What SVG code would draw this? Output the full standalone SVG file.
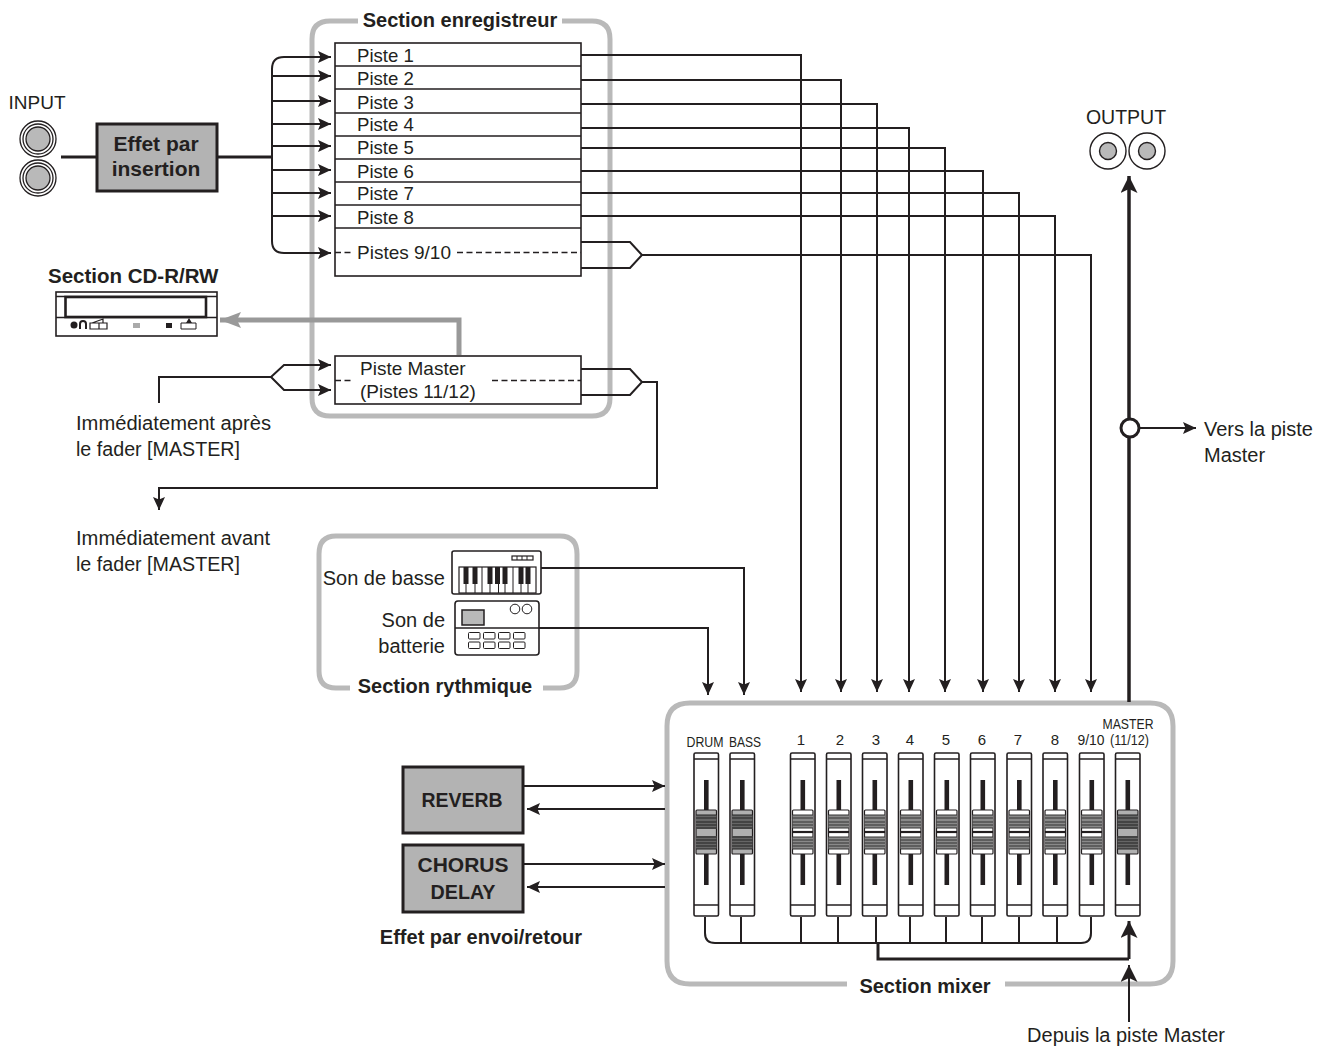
<svg xmlns="http://www.w3.org/2000/svg" width="1318" height="1054" viewBox="0 0 1318 1054">
<style>
text{font-family:"Liberation Sans",Arial,sans-serif;font-size:20px;fill:#231f20}
.b{font-weight:bold}
.m{text-anchor:middle}
.e{text-anchor:end}
.p{font-size:18.600px}
.sm{font-size:15px}
.xs{font-size:14px}
.fx{font-size:21px;font-weight:bold;text-anchor:middle}
.w{fill:none;stroke:#231f20;stroke-width:2}
.t{fill:none;stroke:#231f20;stroke-width:3}
.sec{fill:none;stroke:#b9b9b9;stroke-width:5}
.line{fill:none;stroke:#231f20;stroke-width:1.6}
.dash{fill:none;stroke:#231f20;stroke-width:1.3;stroke-dasharray:6 3.500}
.box{fill:#fff;stroke:#231f20;stroke-width:1.600}
.gb{fill:#b3b3b3;stroke:#231f20;stroke-width:3}
.g{fill:#b9b9b9;stroke:#231f20;stroke-width:1.5}
</style>
<defs>
<marker id="a" markerUnits="userSpaceOnUse" markerWidth="14" markerHeight="13" refX="13" refY="6" orient="auto"><path d="M0 0L13 6L0 12L2.500 6Z" fill="#231f20"/></marker>
<marker id="A" markerUnits="userSpaceOnUse" markerWidth="18" markerHeight="20" refX="17" refY="8.500" orient="auto"><path d="M0 0L17 8.500L0 17L4 8.500Z" fill="#231f20"/></marker>
<marker id="G" markerUnits="userSpaceOnUse" markerWidth="22" markerHeight="20" refX="21" refY="8" orient="auto"><path d="M0 0L21 8L0 16L4 8Z" fill="#999"/></marker>
<g id="fl">
<rect x="0" y="0" width="24.500" height="163" rx="1.500" class="box"/>
<path d="M0 6H24.500M0 152H24.500" class="line"/>
<rect x="10" y="27" width="4.600" height="105" fill="#231f20"/>
</g>
<g id="kw">
<rect x="2" y="57" width="20.500" height="44" rx="1" fill="#fff" stroke="#231f20" stroke-width="1.200"/>
<rect x="2" y="62" width="20.500" height="13" fill="#8a8a8a"/>
<rect x="2" y="84" width="20.500" height="12" fill="#8a8a8a"/>
<path d="M2 62h20.500M2 65h20.500M2 69h20.500M2 72h20.500M2 75h20.500M2 84h20.500M2 87h20.500M2 90h20.500M2 93h20.500M2 96h20.500" stroke="#333" stroke-width="1.100"/>
<path d="M2 79h20.500" stroke="#231f20" stroke-width="2.200"/>
</g>
<g id="kg">
<rect x="2" y="57" width="20.500" height="44" rx="1" fill="#b0b0b0" stroke="#231f20" stroke-width="1.200"/>
<rect x="2" y="62" width="20.500" height="14" fill="#666"/>
<rect x="2" y="83" width="20.500" height="13" fill="#666"/>
<path d="M2 62h20.500M2 65h20.500M2 69h20.500M2 72h20.500M2 75h20.500M2 84h20.500M2 87h20.500M2 90h20.500M2 93h20.500M2 96h20.500" stroke="#222" stroke-width="1"/>
</g>
</defs>

<g id="section-enregistreur">
<path class="sec" d="M358 21H330Q312 21 312 39V398Q312 416 330 416H592Q610 416 610 398V39Q610 21 592 21H562"/>
<text x="460" y="27" class="b m">Section enregistreur</text>
</g>
<g id="section-rythmique">
<path class="sec" d="M350 688H336Q319 688 319 671V554Q319 536 336 536H560Q577 536 577 554V671Q577 688 560 688H543"/>
<text x="445" y="693" class="b m">Section rythmique</text>
</g>
<g id="section-mixer">
<path class="sec" d="M847 984H690Q667 984 667 961V726Q667 703 690 703H1150Q1173 703 1173 726V961Q1173 984 1150 984H1005"/>
<text x="925" y="993" class="b m">Section mixer</text>
</g>

<g id="connectors">
<path class="t" d="M61 157H96M217 157H272"/>
<path class="w" d="M331 57H284Q272 57 272 69V241Q272 253 284 253H331" marker-end="url(#a)"/>
<path class="w" d="M284 57H331" marker-end="url(#a)"/>
<path class="w" d="M272 76H331" marker-end="url(#a)"/>
<path class="w" d="M272 101H331" marker-end="url(#a)"/>
<path class="w" d="M272 124H331" marker-end="url(#a)"/>
<path class="w" d="M272 146H331" marker-end="url(#a)"/>
<path class="w" d="M272 170H331" marker-end="url(#a)"/>
<path class="w" d="M272 193H331" marker-end="url(#a)"/>
<path class="w" d="M272 216H331" marker-end="url(#a)"/>
<path class="w" d="M581 55H801V692" marker-end="url(#a)"/>
<path class="w" d="M581 80H841V692" marker-end="url(#a)"/>
<path class="w" d="M581 104H877V692" marker-end="url(#a)"/>
<path class="w" d="M581 128H909V692" marker-end="url(#a)"/>
<path class="w" d="M581 148H945V692" marker-end="url(#a)"/>
<path class="w" d="M581 171H983V692" marker-end="url(#a)"/>
<path class="w" d="M581 193H1019V692" marker-end="url(#a)"/>
<path class="w" d="M581 216H1055V692" marker-end="url(#a)"/>
<path class="w" d="M581 242H630L642 255L630 268H581M642 255H1091V692"/>
<path class="w" d="M1091 670V692" marker-end="url(#a)"/>
<path d="M459 355V320H220" fill="none" stroke="#999" stroke-width="5" marker-end="url(#G)"/>
<path class="w" d="M159 403V377H271L284 365H331" marker-end="url(#a)"/>
<path class="w" d="M271 377L284 390H331" marker-end="url(#a)"/>
<path class="w" d="M581 369H630L642 382L630 395H581M642 382H657V488H159V510"/>
<path class="w" d="M159 495V510" marker-end="url(#a)"/>
<path class="w" d="M541 568H744V695" marker-end="url(#a)"/>
<path class="w" d="M539 628H708V695" marker-end="url(#a)"/>
<path class="w" d="M523 786H665" marker-end="url(#a)"/>
<path class="w" d="M665 809H527" marker-end="url(#a)"/>
<path class="w" d="M523 864H665" marker-end="url(#a)"/>
<path class="w" d="M665 887H527" marker-end="url(#a)"/>
<path d="M1129 702V176" fill="none" stroke="#231f20" stroke-width="3.500" marker-end="url(#A)"/>
<path class="w" d="M1139 428H1196" marker-end="url(#a)"/>
<path class="w" d="M705 917V933Q705 943 715 943H1081Q1091 943 1091 933V917M741 917V943M801 917V943M838 917V943M876 917V943M910 917V943M946 917V943M982 917V943M1019 917V943M1057 917V943"/>
<path class="t" d="M878 943V959H1129"/>
<path d="M1129 959V921" fill="none" stroke="#231f20" stroke-width="3" marker-end="url(#A)"/>
<path class="w" d="M1129 1022V965" marker-end="url(#A)"/>
</g>

<g id="input">
<text x="37" y="109" class="m" style="font-size:19px">INPUT</text>
<g fill="#fff" stroke="#231f20" stroke-width="1.300">
<circle cx="38" cy="139" r="18"/><circle cx="38" cy="139" r="15"/><circle cx="38" cy="139" r="12" fill="#b9b9b9"/>
<circle cx="38" cy="178" r="18"/><circle cx="38" cy="178" r="15"/><circle cx="38" cy="178" r="12" fill="#b9b9b9"/>
</g>
</g>
<g id="effet-insertion">
<rect x="97" y="124" width="120" height="67" class="gb"/>
<text x="156" y="151" class="fx">Effet par</text>
<text x="156" y="176" class="fx">insertion</text>
</g>

<g id="pistes">
<rect x="335" y="43" width="246" height="233" class="box"/>
<path class="line" d="M335 66H581M335 89H581M335 113H581M335 136H581M335 159H581M335 182H581M335 205H581M335 228H581"/>
<text class="p" x="357" y="62">Piste 1</text>
<text class="p" x="357" y="85">Piste 2</text>
<text class="p" x="357" y="109">Piste 3</text>
<text class="p" x="357" y="131">Piste 4</text>
<text class="p" x="357" y="154">Piste 5</text>
<text class="p" x="357" y="178">Piste 6</text>
<text class="p" x="357" y="200">Piste 7</text>
<text class="p" x="357" y="224">Piste 8</text>
<text class="p" x="357" y="259" style="font-size:19px">Pistes 9/10</text>
<path class="dash" d="M335 252.500H352M457 252.500H581"/>
</g>
<g id="piste-master">
<rect x="335" y="356" width="246" height="48" class="box"/>
<text x="360" y="375" style="font-size:19px">Piste Master</text>
<text x="360" y="398" style="font-size:19px">(Pistes 11/12)</text>
<path class="dash" d="M335 380.500H352M492 380.500H581"/>
</g>

<g id="cd-rw">
<text x="48" y="283" class="b" style="font-size:20.500px">Section CD-R/RW</text>
<rect x="56" y="292" width="161" height="44" fill="#fff" stroke="#231f20" stroke-width="1.600"/>
<path class="line" d="M56 296.500H217"/>
<path d="M56 317.500H217" stroke="#231f20" stroke-width="1.600"/>
<rect x="65.500" y="297" width="140.500" height="20" fill="#fff" stroke="#231f20" stroke-width="2.600"/>
<circle cx="74" cy="325" r="3.500" fill="#231f20"/>
<path d="M80 329V324A2.800 2.800 0 0 1 86 324V329" fill="none" stroke="#231f20" stroke-width="2"/>
<path d="M90 329V323H107V329ZM92 323L103 319V323M99 323V329" fill="none" stroke="#231f20" stroke-width="1.200"/>
<rect x="133" y="323" width="7" height="5" fill="#aaa"/>
<rect x="166" y="323" width="6" height="5" fill="#231f20"/>
<path d="M181 329V323H196V329Z" fill="none" stroke="#231f20" stroke-width="1"/>
<path d="M186 323L189 318L192 323Z" fill="#231f20"/>
</g>

<g id="immediat">
<text x="76" y="430" textLength="195" lengthAdjust="spacingAndGlyphs">Immédiatement après</text>
<text x="76" y="456" textLength="164" lengthAdjust="spacingAndGlyphs">le fader [MASTER]</text>
<text x="76" y="545" textLength="194" lengthAdjust="spacingAndGlyphs">Immédiatement avant</text>
<text x="76" y="571" textLength="164" lengthAdjust="spacingAndGlyphs">le fader [MASTER]</text>
</g>

<g id="rythmique">
<text x="445" y="585" class="e">Son de basse</text>
<text x="445" y="627" class="e">Son de</text>
<text x="445" y="653" class="e">batterie</text>
<g id="clavier">
<rect x="452" y="551" width="89" height="43" rx="2" class="box"/>
<rect x="512" y="556" width="21" height="4" fill="#fff" stroke="#231f20" stroke-width="1.200"/>
<path d="M517 556V560M522 556V560M527 556V560" stroke="#231f20"/>
<rect x="459" y="567" width="77" height="26" fill="#fff" stroke="#231f20" stroke-width="1.200"/>
<path stroke="#231f20" stroke-width="1" d="M466 567V593M475 567V593M482 567V593M490 567V593M498.500 567V593M505 567V593M513 567V593M521 567V593M528 567V593"/>
<path stroke="#231f20" stroke-width="5" d="M466 567V584M475 567V584M490 567V584M497.500 567V584M505 567V584M521 567V584M528 567V584"/>
</g>
<g id="boite">
<rect x="455" y="601" width="84" height="54" rx="3" class="box"/>
<path class="line" d="M455 628H539"/>
<rect x="462" y="610" width="22" height="15" class="g"/>
<circle cx="515" cy="609" r="4.800" fill="#fff" stroke="#231f20"/>
<circle cx="527" cy="609" r="4.800" fill="#fff" stroke="#231f20"/>
<g fill="#fff" stroke="#231f20" stroke-width="1">
<rect x="468.500" y="632.500" width="11.500" height="6.500" rx="1"/><rect x="483.500" y="632.500" width="11.500" height="6.500" rx="1"/><rect x="498.500" y="632.500" width="11.500" height="6.500" rx="1"/><rect x="513.500" y="632.500" width="11.500" height="6.500" rx="1"/>
<rect x="468.500" y="642" width="11.500" height="6.500" rx="1"/><rect x="483.500" y="642" width="11.500" height="6.500" rx="1"/><rect x="498.500" y="642" width="11.500" height="6.500" rx="1"/><rect x="513.500" y="642" width="11.500" height="6.500" rx="1"/>
</g>
</g>
</g>

<g id="effets-envoi">
<rect x="403" y="767" width="120" height="66" class="gb"/>
<text x="462" y="807" class="fx" textLength="81" lengthAdjust="spacingAndGlyphs">REVERB</text>
<rect x="403" y="845" width="120" height="67" class="gb"/>
<text x="463" y="872" class="fx">CHORUS</text>
<text x="463" y="899" class="fx" textLength="65" lengthAdjust="spacingAndGlyphs">DELAY</text>
<text x="481" y="944" class="b m">Effet par envoi/retour</text>
</g>

<g id="faders" transform="translate(0,753)">
<g transform="translate(694,0)"><use href="#fl"/><use href="#kg"/></g>
<g transform="translate(730,0)"><use href="#fl"/><use href="#kg"/></g>
<g transform="translate(790.500,0)"><use href="#fl"/><use href="#kw"/></g>
<g transform="translate(826.500,0)"><use href="#fl"/><use href="#kw"/></g>
<g transform="translate(862.500,0)"><use href="#fl"/><use href="#kw"/></g>
<g transform="translate(898.500,0)"><use href="#fl"/><use href="#kw"/></g>
<g transform="translate(934.500,0)"><use href="#fl"/><use href="#kw"/></g>
<g transform="translate(970.500,0)"><use href="#fl"/><use href="#kw"/></g>
<g transform="translate(1007,0)"><use href="#fl"/><use href="#kw"/></g>
<g transform="translate(1043,0)"><use href="#fl"/><use href="#kw"/></g>
<g transform="translate(1079.500,0)"><use href="#fl"/><use href="#kw"/></g>
<g transform="translate(1115.500,0)"><use href="#fl"/><use href="#kg"/></g>
</g>
<g id="fader-labels">
<text class="xs m" x="705" y="747" textLength="37" lengthAdjust="spacingAndGlyphs">DRUM</text>
<text class="xs m" x="745" y="747" textLength="32" lengthAdjust="spacingAndGlyphs">BASS</text>
<text class="sm m" x="801" y="745">1</text>
<text class="sm m" x="840" y="745">2</text>
<text class="sm m" x="876" y="745">3</text>
<text class="sm m" x="910" y="745">4</text>
<text class="sm m" x="946" y="745">5</text>
<text class="sm m" x="982" y="745">6</text>
<text class="sm m" x="1018" y="745">7</text>
<text class="sm m" x="1055" y="745">8</text>
<text class="sm m" x="1091" y="745" textLength="27" lengthAdjust="spacingAndGlyphs">9/10</text>
<text class="xs m" x="1128" y="729" textLength="51" lengthAdjust="spacingAndGlyphs">MASTER</text>
<text class="sm m" x="1129.500" y="745" textLength="39" lengthAdjust="spacingAndGlyphs">(11/12)</text>
</g>

<g id="output">
<text x="1126" y="124" class="m" style="font-size:19.500px">OUTPUT</text>
<g fill="#fff" stroke="#231f20" stroke-width="1.400">
<circle cx="1108" cy="151" r="18"/><circle cx="1108" cy="151" r="8.500" fill="#b9b9b9"/>
<circle cx="1147" cy="151" r="18"/><circle cx="1147" cy="151" r="8.500" fill="#b9b9b9"/>
</g>
</g>
<g id="vers-master">
<circle cx="1130" cy="428" r="9" fill="#fff" stroke="#231f20" stroke-width="3"/>
<text x="1204" y="436">Vers la piste</text>
<text x="1204" y="462">Master</text>
</g>
<g id="depuis">
<text x="1126" y="1042" class="m">Depuis la piste Master</text>
</g>
</svg>
